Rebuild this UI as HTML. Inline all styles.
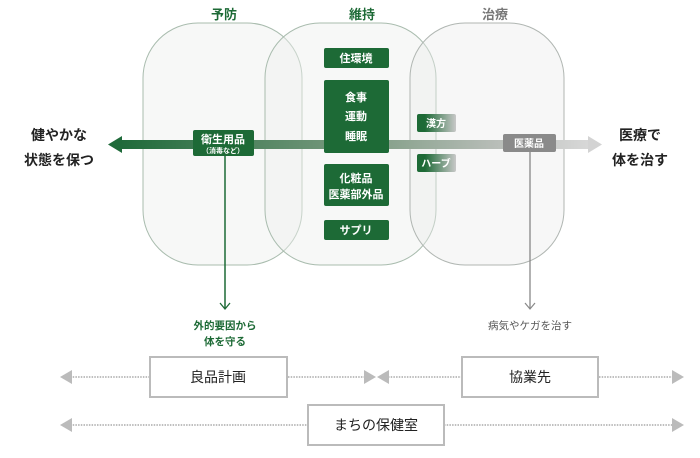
<!DOCTYPE html>
<html><head><meta charset="utf-8"><style>
body{margin:0;background:#fff;font-family:"Liberation Sans","Noto Sans CJK JP",sans-serif;}
</style></head><body>
<svg width="700" height="453" viewBox="0 0 700 453" xmlns="http://www.w3.org/2000/svg" font-family="Liberation Sans, Noto Sans CJK JP, sans-serif">
<defs>
<linearGradient id="bar" x1="0" x2="1">
<stop offset="0" stop-color="#1f6a3a"/><stop offset="0.5" stop-color="#7a9a80"/><stop offset="0.8" stop-color="#b8bdb8"/><stop offset="1" stop-color="#d8d8d8"/></linearGradient>
<linearGradient id="gg" x1="0" x2="1"><stop offset="0.2" stop-color="#1d6a36"/><stop offset="1" stop-color="#c8c8c8"/></linearGradient>
</defs>
<g font-weight="bold" font-size="13" text-anchor="middle">
<text x="224" y="19" fill="#1d6a36">予防</text>
<text x="362" y="19" fill="#1d6a36">維持</text>
<text x="495" y="19" fill="#777">治療</text>
</g>
<rect x="143" y="23" width="159" height="242" rx="55" fill="#f0f1f0" fill-opacity="0.5" stroke="#a9bcae"/>
<rect x="265" y="23" width="171" height="242" rx="55" fill="#eeefee" fill-opacity="0.45" stroke="#a9bcae"/>
<rect x="410" y="23" width="154" height="242" rx="55" fill="#ebebeb" fill-opacity="0.4" stroke="#b0b6b2"/>
<rect x="120" y="140" width="470" height="9" fill="url(#bar)"/>
<polygon points="108,144.5 122,136 122,153" fill="#1f6a3a"/>
<polygon points="602,144.5 588,136 588,153" fill="#d3d3d3"/>
<g fill="#1d6a36">
<rect x="324" y="48" width="65" height="20" rx="2"/>
<rect x="324" y="80" width="65" height="73" rx="2"/>
<rect x="324" y="164" width="65" height="42" rx="2"/>
<rect x="324" y="220" width="65" height="20" rx="2"/>
<rect x="193" y="130" width="61" height="26" rx="2"/>
</g>
<rect x="417" y="114" width="39" height="18" rx="2" fill="url(#gg)"/>
<rect x="417" y="154" width="39" height="18" rx="2" fill="url(#gg)"/>
<rect x="503" y="134" width="53" height="18" rx="2" fill="#8a8a8a"/>
<g fill="#fff" font-size="11" font-weight="bold" text-anchor="middle">
<text x="356" y="62">住環境</text>
<text x="356" y="101">食事</text><text x="356" y="120">運動</text><text x="356" y="140">睡眠</text>
<text x="356" y="182">化粧品</text><text x="356" y="198">医薬部外品</text>
<text x="356" y="234">サプリ</text>
<text x="223" y="143">衛生用品</text>
<text x="223" y="153" font-size="7">（消毒など）</text>
<text x="436" y="127" font-size="10">漢方</text>
<text x="436" y="167" font-size="10">ハーブ</text>
<text x="529" y="147" font-size="10">医薬品</text>
</g>
<g font-size="14" font-weight="bold" fill="#222" text-anchor="middle">
<text x="59" y="140">健やかな</text><text x="59" y="165">状態を保つ</text>
<text x="640" y="140">医療で</text><text x="640" y="165">体を治す</text>
</g>
<line x1="225" y1="156" x2="225" y2="309" stroke="#1d6a36" stroke-width="1.5"/>
<polyline points="220,303 225,309 230,303" fill="none" stroke="#1d6a36" stroke-width="1.3"/>
<line x1="530" y1="152" x2="530" y2="309" stroke="#888" stroke-width="1.3"/>
<polyline points="525,303 530,309 535,303" fill="none" stroke="#888" stroke-width="1.2"/>
<g font-size="10.5" text-anchor="middle">
<text x="225" y="329" fill="#1d6a36" font-weight="bold">外的要因から</text>
<text x="225" y="345" fill="#1d6a36" font-weight="bold">体を守る</text>
<text x="530" y="329" fill="#555">病気やケガを治す</text>
</g>
<g stroke="#aaa" stroke-width="1.5" stroke-dasharray="1.5 1.2" fill="none">
<line x1="70" y1="377" x2="150" y2="377"/><line x1="288" y1="377" x2="366" y2="377"/>
<line x1="388" y1="377" x2="462" y2="377"/><line x1="599" y1="377" x2="672" y2="377"/>
<line x1="70" y1="425" x2="308" y2="425"/><line x1="444" y1="425" x2="672" y2="425"/>
</g>
<g fill="#bbb">
<polygon points="60,377 72,370 72,384"/><polygon points="376,377 364,370 364,384"/>
<polygon points="377,377 389,370 389,384"/><polygon points="684,377 672,370 672,384"/>
<polygon points="60,425 72,418 72,432"/><polygon points="684,425 672,418 672,432"/>
</g>
<g fill="#fff" stroke="#bbb" stroke-width="2">
<rect x="150" y="357" width="137" height="40"/>
<rect x="462" y="357" width="136" height="40"/>
<rect x="308" y="405" width="136" height="40"/>
</g>
<g font-size="14" fill="#222" text-anchor="middle">
<text x="218" y="382">良品計画</text>
<text x="530" y="382">協業先</text>
<text x="376" y="430">まちの保健室</text>
</g>
</svg>
</body></html>
